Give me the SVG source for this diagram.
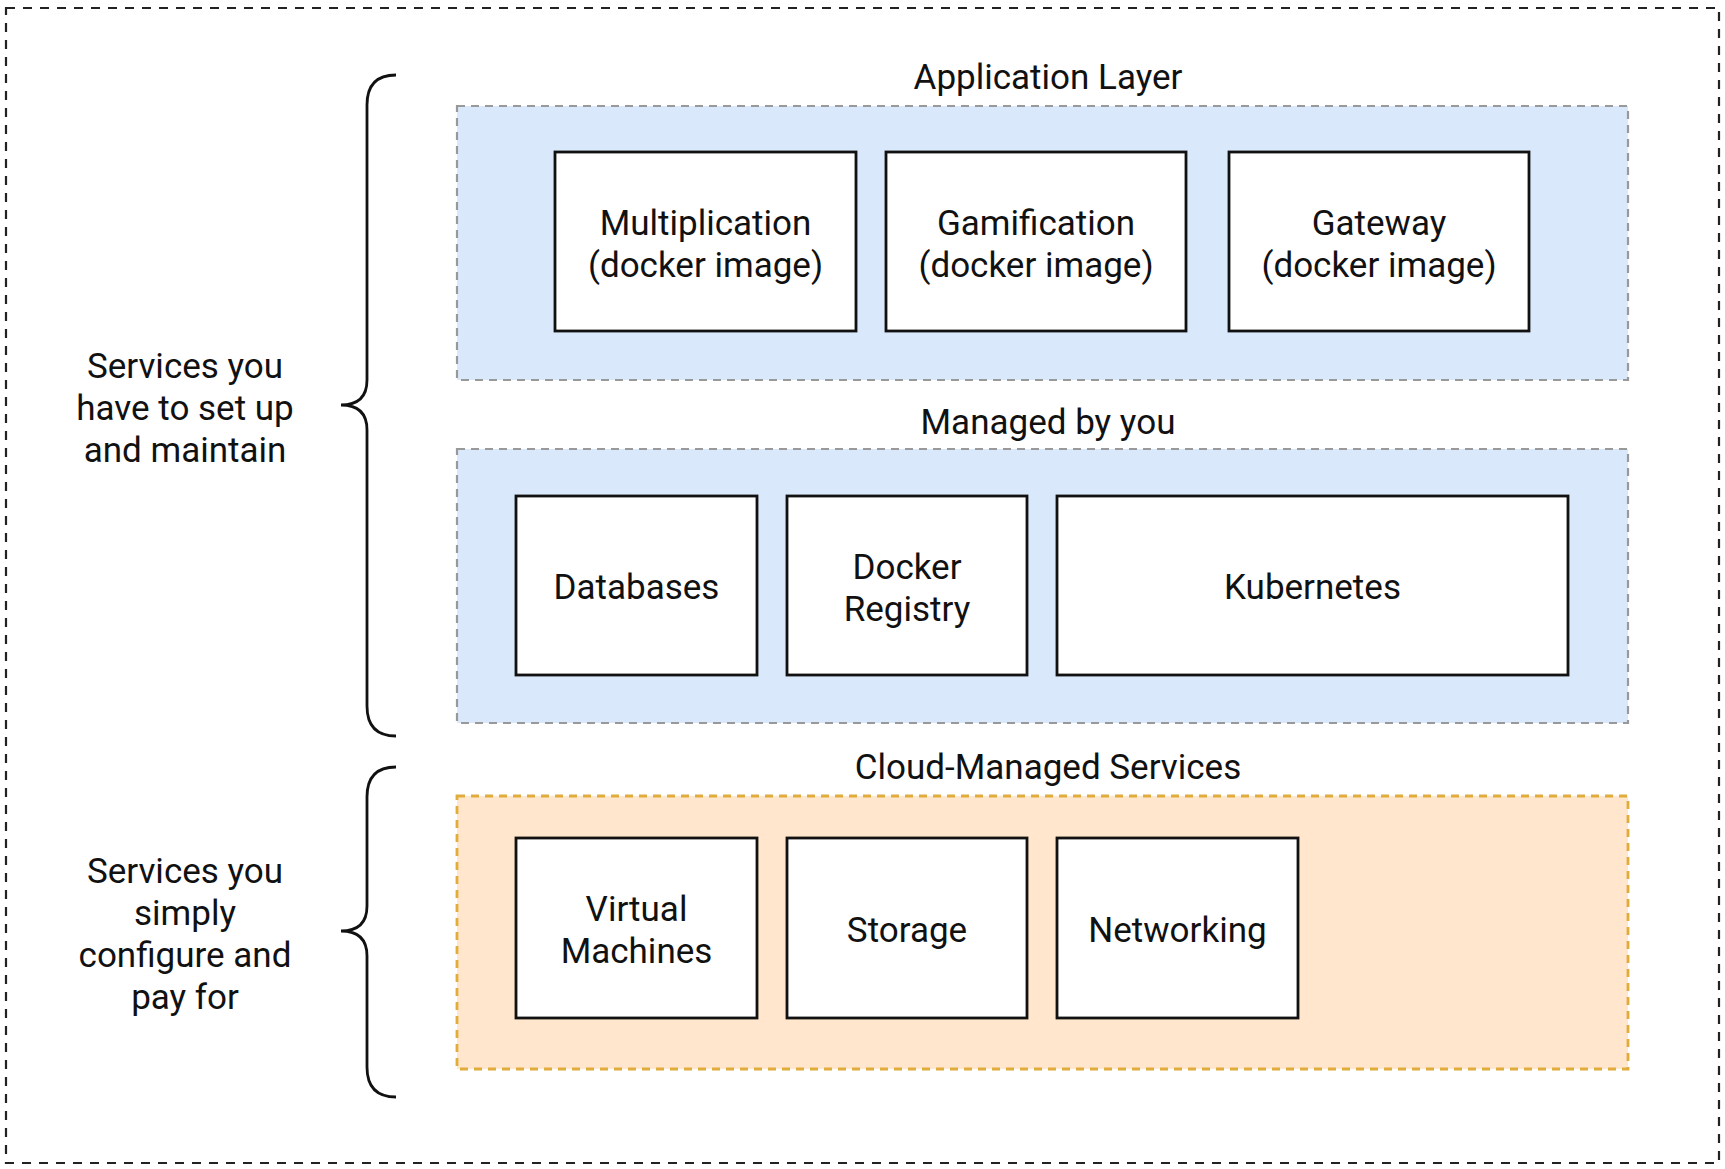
<svg xmlns="http://www.w3.org/2000/svg" width="1725" height="1169" viewBox="0 0 1725 1169">
<style>
text{font-family:Roboto,"Liberation Sans",sans-serif;font-size:35px;fill:#111;text-anchor:middle}
.node{fill:#fff;stroke:#111;stroke-width:2.8}
.blue{fill:#dae8fc;stroke:#999;stroke-width:2.2;stroke-dasharray:8 6}
.orange{fill:#ffe6cc;stroke:#e0ac3c;stroke-width:2.8;stroke-dasharray:8 6}
.brace{fill:none;stroke:#111;stroke-width:2.8}
</style>
<rect x="6" y="8" width="1713" height="1155" fill="#fff" stroke="#222" stroke-width="2.2" stroke-dasharray="9 8"/>

<g id="app-layer">
<rect class="blue" x="457" y="106" width="1171" height="274"/>
<text x="1048" y="89">Application Layer</text>
</g>
<g id="managed-layer">
<rect class="blue" x="457" y="449" width="1171" height="274"/>
<text x="1048" y="434">Managed by you</text>
</g>
<g id="cloud-layer">
<rect class="orange" x="457" y="796" width="1171" height="273"/>
<text x="1048" y="779">Cloud-Managed Services</text>
</g>

<g id="multiplication"><rect class="node" x="555" y="152" width="301" height="179"/><text x="705.5" y="235">Multiplication</text><text x="705.5" y="277">(docker image)</text></g>
<g id="gamification"><rect class="node" x="886" y="152" width="300" height="179"/><text x="1036" y="235">Gamification</text><text x="1036" y="277">(docker image)</text></g>
<g id="gateway"><rect class="node" x="1229" y="152" width="300" height="179"/><text x="1379" y="235">Gateway</text><text x="1379" y="277">(docker image)</text></g>

<g id="databases"><rect class="node" x="516" y="496" width="241" height="179"/><text x="636.5" y="599">Databases</text></g>
<g id="docker-registry"><rect class="node" x="787" y="496" width="240" height="179"/><text x="907" y="579">Docker</text><text x="907" y="621">Registry</text></g>
<g id="kubernetes"><rect class="node" x="1057" y="496" width="511" height="179"/><text x="1312.5" y="599">Kubernetes</text></g>

<g id="virtual-machines"><rect class="node" x="516" y="838" width="241" height="180"/><text x="636.5" y="921">Virtual</text><text x="636.5" y="963">Machines</text></g>
<g id="storage"><rect class="node" x="787" y="838" width="240" height="180"/><text x="907" y="942">Storage</text></g>
<g id="networking"><rect class="node" x="1057" y="838" width="241" height="180"/><text x="1177.5" y="942">Networking</text></g>

<g id="connectors">
<path class="brace" d="M396,75 Q367,75 367,105 L367,380 Q367,405 341,405 Q367,405 367,430 L367,706 Q367,736 396,736"/>
<path class="brace" d="M396,767 Q367,767 367,797 L367,906 Q367,931 341,931 Q367,931 367,956 L367,1067 Q367,1097 396,1097"/>
</g>

<g id="label-setup">
<text x="185" y="378">Services you</text>
<text x="185" y="420">have to set up</text>
<text x="185" y="462">and maintain</text>
</g>
<g id="label-configure">
<text x="185" y="883">Services you</text>
<text x="185" y="925">simply</text>
<text x="185" y="967">configure and</text>
<text x="185" y="1009">pay for</text>
</g>
</svg>
